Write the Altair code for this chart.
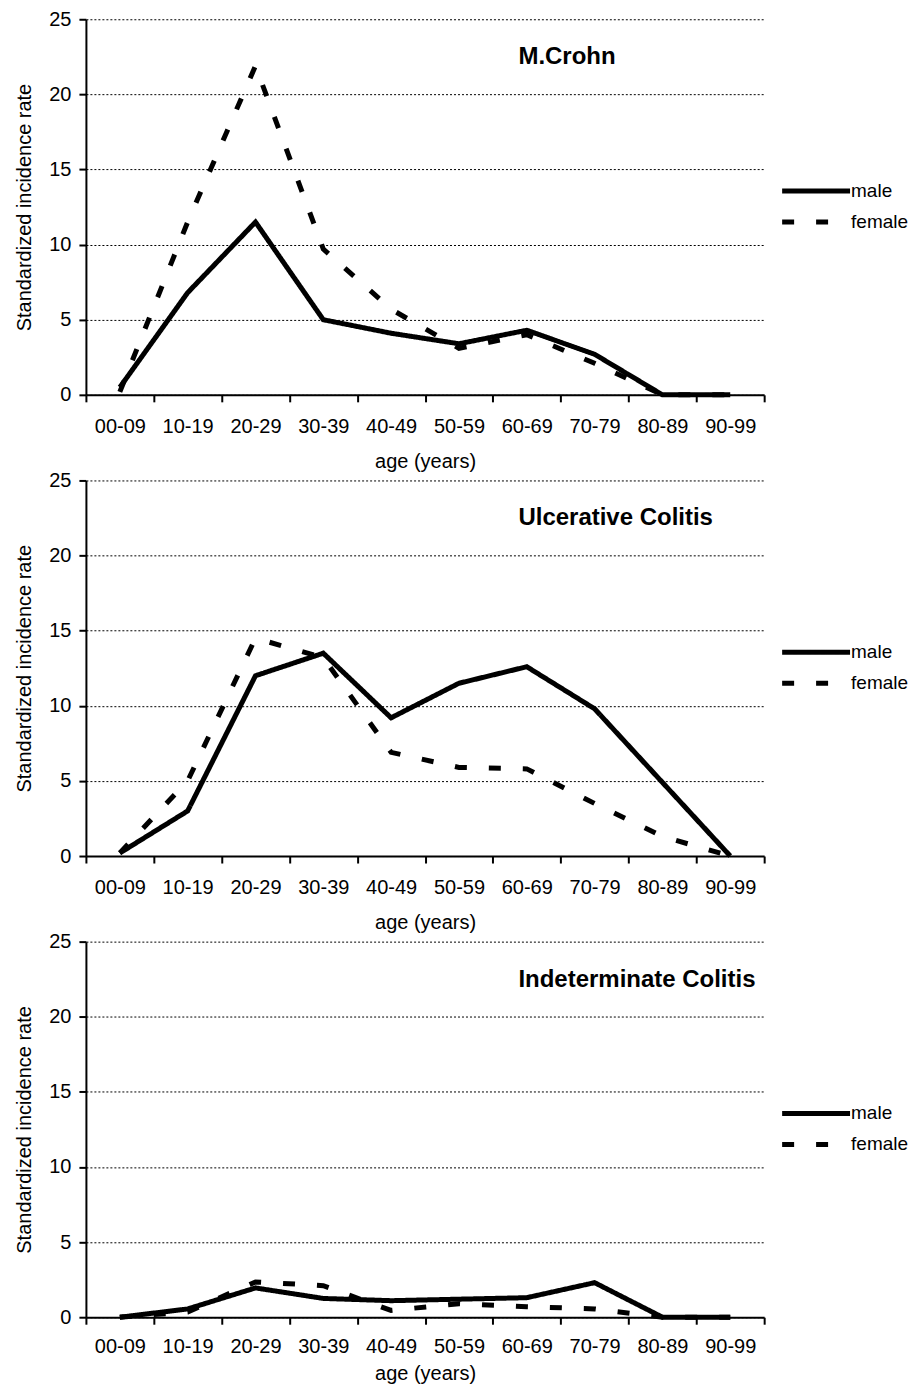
import altair as alt
import pandas as pd

ages = ["00-09", "10-19", "20-29", "30-39", "40-49", "50-59", "60-69", "70-79", "80-89", "90-99"]
sexes = ["male", "female"]
panel_titles = ["M.Crohn", "Ulcerative Colitis", "Indeterminate Colitis"]

crohn_male = [0.5, 6.8, 11.5, 5.0, 4.1, 3.4, 4.3, 2.7, 0.0, 0.0]
crohn_female = [0.2, 11.5, 21.9, 9.7, 5.7, 3.1, 4.0, 2.1, 0.0, 0.0]
uc_male = [0.2, 3.0, 12.0, 13.5, 9.2, 11.5, 12.6, 9.8, 4.9, 0.0]
uc_female = [0.2, 5.0, 14.5, 13.2, 6.9, 5.9, 5.8, 3.5, 1.3, 0.0]
ic_male = [0.0, 0.55, 1.95, 1.25, 1.1, 1.2, 1.3, 2.3, 0.0, 0.0]
ic_female = [0.0, 0.35, 2.35, 2.1, 0.45, 0.9, 0.7, 0.55, 0.0, 0.0]

y_ticks = [0, 5, 10, 15, 20, 25]
FONT = "Liberation Sans"


def make_panel(title_text, male, female, x_label_pad=15, x_title_pad=15):
    df = pd.DataFrame({
        "age": ages * 2,
        "sex": ["male"] * len(ages) + ["female"] * len(ages),
        "rate": male + female,
    })
    lines = alt.Chart(df).mark_line(color="black", strokeWidth=5, strokeJoin="miter").encode(
        x=alt.X("age:O", sort=ages, title="age (years)",
                scale=alt.Scale(type="band", paddingInner=0, paddingOuter=0),
                axis=alt.Axis(tickBand="extent", labelAngle=0, grid=False,
                              labelPadding=x_label_pad, titlePadding=x_title_pad)),
        y=alt.Y("rate:Q", title="Standardized incidence rate",
                scale=alt.Scale(domain=[0, 25], nice=False),
                axis=alt.Axis(values=y_ticks, grid=True, labelPadding=8, titlePadding=14)),
        strokeDash=alt.StrokeDash(
            "sex:N",
            scale=alt.Scale(domain=sexes, range=[[1, 0], [12, 22]]),
            legend=alt.Legend(title=None, orient="none", legendX=697, legendY=161,
                              symbolType="M-4,0H4", symbolSize=289, symbolStrokeWidth=5,
                              symbolStrokeColor="black", symbolOffset=23, labelOffset=24,
                              rowPadding=10, padding=0, labelFontSize=19,
                              labelColor="black", labelFont=FONT),
        ),
    )
    label = alt.Chart(pd.DataFrame({"t": [title_text]})).mark_text(
        align="left", baseline="alphabetic", fontSize=24, fontWeight="bold",
        font=FONT, color="black"
    ).encode(x=alt.value(433), y=alt.value(45), text="t:N")
    return alt.layer(lines, label).properties(width=679, height=376)


chart = alt.vconcat(
    make_panel(panel_titles[0], crohn_male, crohn_female),
    make_panel(panel_titles[1], uc_male, uc_female),
    make_panel(panel_titles[2], ic_male, ic_female, x_label_pad=12, x_title_pad=7),
    spacing=-1.3,
).resolve_scale(strokeDash="independent").resolve_legend(strokeDash="independent").properties(
    padding={"left": 6, "top": 0.5, "right": 0, "bottom": 0}
).configure_view(stroke=None).configure_axis(
    domainColor="black", domainWidth=2, tickColor="black", tickWidth=2, tickSize=7,
    labelFontSize=20, titleFontSize=20, labelColor="black", titleColor="black",
    titleFontWeight="normal", labelFont=FONT, titleFont=FONT,
    gridColor="black", gridDash=[2, 2], gridWidth=1,
)

chart.save("out.html", embed_options={"renderer": "svg", "actions": False})
